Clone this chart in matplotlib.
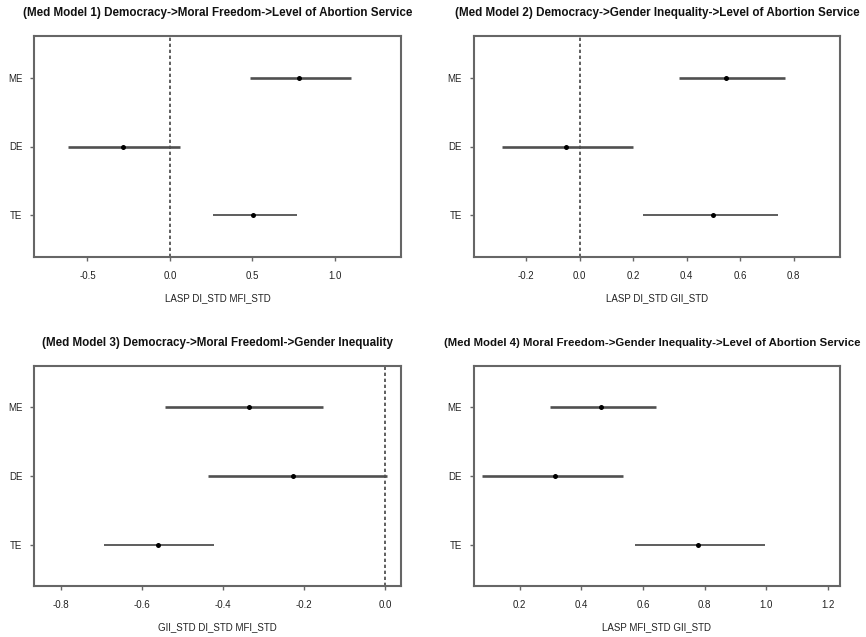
import matplotlib
matplotlib.use("Agg")
import matplotlib.pyplot as plt

plt.rcParams['font.family'] = ['Liberation Sans', 'DejaVu Sans']

effects = ["TE", "DE", "ME"]  # bottom to top

titles = [
    "(Med Model 1) Democracy->Moral Freedom->Level of Abortion Service",
    "(Med Model 2) Democracy->Gender Inequality->Level of Abortion Service",
    "(Med Model 3) Democracy->Moral Freedoml->Gender Inequality",
    "(Med Model 4) Moral Freedom->Gender Inequality->Level of Abortion Service",
]
xlabels = [
    "LASP DI_STD MFI_STD",
    "LASP DI_STD GII_STD",
    "GII_STD DI_STD MFI_STD",
    "LASP MFI_STD GII_STD",
]

# estimates / lower / upper in order TE, DE, ME
m1_est = [0.505, -0.283, 0.784]
m1_lo = [0.262, -0.616, 0.485]
m1_hi = [0.768, 0.061, 1.097]

m2_est = [0.498, -0.050, 0.546]
m2_lo = [0.237, -0.290, 0.370]
m2_hi = [0.741, 0.199, 0.769]

m3_est = [-0.560, -0.226, -0.337]
m3_lo = [-0.694, -0.436, -0.543]
m3_hi = [-0.422, 0.004, -0.152]

m4_est = [0.778, 0.314, 0.465]
m4_lo = [0.573, 0.078, 0.297]
m4_hi = [0.997, 0.535, 0.641]

xticks = [
    [-0.5, 0.0, 0.5, 1.0],
    [-0.2, 0.0, 0.2, 0.4, 0.6, 0.8],
    [-0.8, -0.6, -0.4, -0.2, 0.0],
    [0.2, 0.4, 0.6, 0.8, 1.0, 1.2],
]
xlims = [(-0.822, 1.400), (-0.396, 0.974), (-0.866, 0.0395), (0.051, 1.240)]
show_zero = [True, True, True, False]

models = [(m1_est, m1_lo, m1_hi), (m2_est, m2_lo, m2_hi),
          (m3_est, m3_lo, m3_hi), (m4_est, m4_lo, m4_hi)]

W, H = 866, 637
fig = plt.figure(figsize=(W / 100, H / 100), dpi=100)
fig.patch.set_facecolor("white")

boxes = [
    (34.3, 36.0, 401.0, 257.0),
    (473.7, 36.0, 840.3, 257.0),
    (34.3, 365.7, 401.0, 586.3),
    (473.7, 365.7, 840.3, 586.3),
]
title_y = [13, 13, 343, 343]

line_col = "#505050"
box_col = "#666666"

for i, (est, lo, hi) in enumerate(models):
    x0, y0, x1, y1 = boxes[i]
    ax = fig.add_axes([x0 / W, 1 - y1 / H, (x1 - x0) / W, (y1 - y0) / H])
    ys = list(range(1, len(effects) + 1))
    for j, y in enumerate(ys):
        lw = 1.3 if effects[j] == "TE" else 1.9
        ax.plot([lo[j], hi[j]], [y, y], color=line_col, lw=lw, solid_capstyle="butt", zorder=2)
    ax.plot(est, ys, "o", color="black", ms=3.6, zorder=3, markeredgewidth=0)
    if show_zero[i]:
        ax.axvline(0, color="#444444", lw=1.2, ls=(0, (2, 1.6)), zorder=1)
    ax.set_xlim(*xlims[i])
    ax.set_ylim(0.39, 3.61)
    ax.set_xticks(xticks[i])
    ax.set_xticklabels([f"{t:.1f}" for t in xticks[i]])
    ax.set_yticks(ys)
    ax.set_yticklabels(effects)
    for s in ax.spines.values():
        s.set_color(box_col)
        s.set_linewidth(1.5)
    ax.tick_params(axis="both", length=3, width=1.0, color=box_col,
                   labelsize=7, labelcolor="#222222")
    ax.tick_params(axis="x", pad=7.0)
    ax.tick_params(axis="y", pad=5.5)
    ax.set_xlabel(xlabels[i], fontsize=7, color="#222222")
    ax.xaxis.set_label_coords(0.5, -41 / (y1 - y0))
    ax.xaxis.label.set_va("center")
    if i == 3:
        fig.text(444 / W, 1 - title_y[i] / H, titles[i], ha="left", va="center",
                 fontsize=8.2, fontweight="bold", color="#111111")
    else:
        fig.text((x0 + x1) / 2 / W, 1 - title_y[i] / H, titles[i], ha="center", va="center",
                 fontsize=8.4, fontweight="bold", color="#111111")

fig.savefig("out.png", dpi=100, facecolor="white")
